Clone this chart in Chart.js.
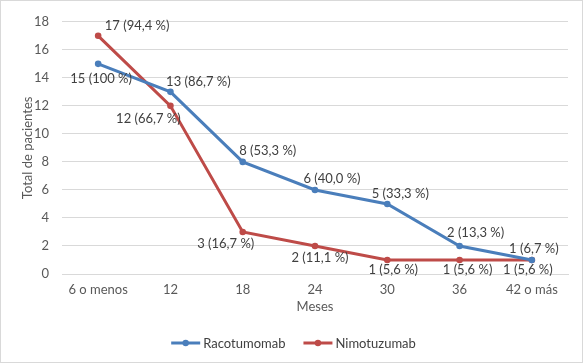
<!DOCTYPE html>
<html><head><meta charset="utf-8">
<script src="https://cdn.jsdelivr.net/npm/chart.js@4"></script>
<style>
html,body{margin:0;padding:0;background:#fff;}
#wrap{width:581px;height:361px;border:1px solid #d9d9d9;position:relative;}
canvas{display:block;}
</style></head><body>
<div id="wrap"><canvas id="c" width="581" height="361"></canvas></div>
<script>
const categories = ['6 o menos','12','18','24','30','36','42 o más'];
const racotumomab = [15,13,8,6,5,2,1];
const nimotuzumab = [17,12,3,2,1,1,1];
const racoLabels = ['15 (100 %)','13 (86,7 %)','8 (53,3 %)','6 (40,0 %)','5 (33,3 %)','2 (13,3 %)','1 (6,7 %)'];
const nimoLabels = ['17 (94,4 %)','12 (66,7 %)','3 (16,7 %)','2 (11,1 %)','1 (5,6 %)','1 (5,6 %)','1 (5,6 %)'];
const seriesNames = ['Racotumomab','Nimotuzumab'];
const yMin = 0, yMax = 18, yStep = 2;

// label placement offsets (style, not data)
const racoOffsets = [[3,15],[28,-10],[25,-11],[17,-11],[13,-10],[16,-13],[2,-11]];
const nimoOffsets = [[39,-10],[-22,13],[-17,12],[5,12],[6,10],[8,10],[-4,10]];

const BLUE = '#4a7ebb', RED = '#be4b48';
const FONT = 'Lato, "Open Sans", sans-serif';
const FS = 13;

const labelPlugin = {
  id: 'pointLabels',
  afterDatasetsDraw(chart) {
    const ctx = chart.ctx;
    ctx.save();
    ctx.font = FS + 'px ' + FONT;
    ctx.fillStyle = '#404040';
    ctx.textAlign = 'center';
    ctx.textBaseline = 'middle';
    const sets = [[racoLabels, racoOffsets],[nimoLabels, nimoOffsets]];
    sets.forEach(([labels, offs], di) => {
      const meta = chart.getDatasetMeta(di);
      meta.data.forEach((pt, i) => {
        ctx.fillText(labels[i], pt.x + offs[i][0], pt.y + offs[i][1]);
      });
    });
    ctx.restore();
  }
};

const legendPlugin = {
  id: 'customLegend',
  afterDraw(chart) {
    const ctx = chart.ctx;
    ctx.save();
    ctx.font = FS + 'px ' + FONT;
    ctx.textBaseline = 'middle';
    ctx.textAlign = 'left';
    const lineW = 29, gap = 3, itemGap = 18;
    const colors = [BLUE, RED];
    const widths = seriesNames.map(n => lineW + gap + ctx.measureText(n).width);
    const total = widths.reduce((a,b)=>a+b,0) + itemGap*(widths.length-1);
    let x = chart.width/2 - total/2 + 2;
    const y = 342;
    seriesNames.forEach((n, i) => {
      ctx.strokeStyle = colors[i];
      ctx.lineWidth = 3;
      ctx.beginPath(); ctx.moveTo(x, y); ctx.lineTo(x+lineW, y); ctx.stroke();
      ctx.fillStyle = colors[i];
      ctx.beginPath(); ctx.arc(x+lineW/2, y, 3.2, 0, Math.PI*2); ctx.fill();
      ctx.fillStyle = '#404040';
      ctx.fillText(n, x + lineW + gap, y+1);
      x += widths[i] + itemGap;
    });
    ctx.restore();
  }
};

new Chart(document.getElementById('c'), {
  type: 'line',
  data: {
    labels: categories,
    datasets: [
      { label: seriesNames[0], data: racotumomab, borderColor: BLUE, backgroundColor: BLUE,
        borderWidth: 3, pointRadius: 3.3, pointBorderWidth: 0, pointBackgroundColor: BLUE, pointBorderColor: BLUE, tension: 0 },
      { label: seriesNames[1], data: nimotuzumab, borderColor: RED, backgroundColor: RED,
        borderWidth: 3, pointRadius: 3.3, pointBorderWidth: 0, pointBackgroundColor: RED, pointBorderColor: RED, tension: 0 }
    ]
  },
  options: {
    responsive: false,
    animation: false,
    layout: { padding: { top: 14, right: 14, left: 0, bottom: 47 } },
    plugins: { legend: { display: false }, tooltip: { enabled: false } },
    scales: {
      x: {
        offset: true,
        grid: { display: false, drawTicks: false },
        border: { color: '#d9d9d9', width: 1 },
        ticks: { font: { family: FONT, size: FS }, color: '#595959', padding: 8, maxRotation: 0, autoSkip: false },
        title: { display: true, text: 'Meses', font: { family: FONT, size: FS }, color: '#595959', padding: { top: 2, bottom: 0 } },
        afterFit(s) { s.height = 41; }
      },
      y: {
        min: yMin, max: yMax,
        grid: { color: '#d9d9d9', drawTicks: false },
        border: { display: false },
        ticks: { stepSize: yStep, font: { family: FONT, size: FS }, color: '#595959', padding: 13 },
        title: { display: true, text: 'Total de pacientes', font: { family: FONT, size: FS }, color: '#595959', padding: { top: 19, bottom: 0 } },
        afterFit(s) { s.width = 61; }
      }
    }
  },
  plugins: [labelPlugin, legendPlugin]
});
</script>
</body></html>
